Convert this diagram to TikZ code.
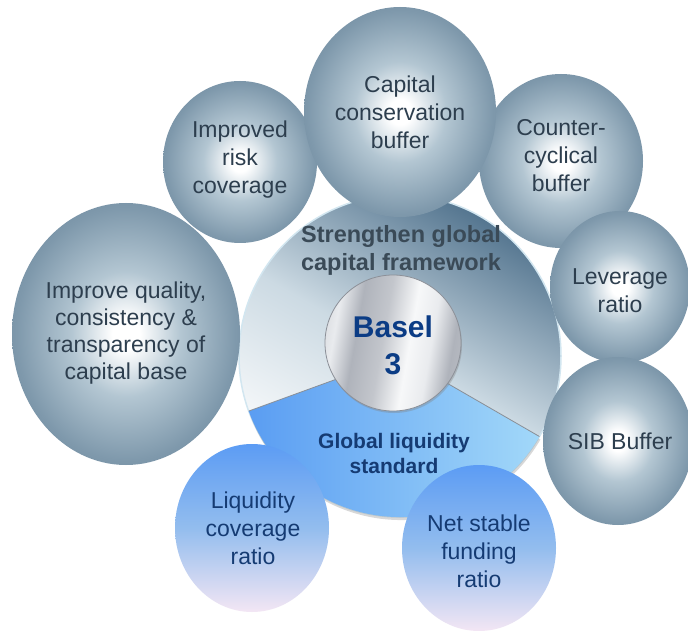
\documentclass[tikz,border=0pt]{standalone}
\usepackage{fontspec}
\setmainfont{Liberation Sans}
\usetikzlibrary{shapes.geometric,shadows}

\definecolor{steeldark}{HTML}{44607A}
\definecolor{steeldeep}{HTML}{577389}
\definecolor{steelmid}{HTML}{7F99AC}
\definecolor{steellight}{HTML}{B3C6D2}
\definecolor{diskdark}{HTML}{557690}
\definecolor{diskmid}{HTML}{CCDAE3}
\definecolor{disklight}{HTML}{FFFFFF}
\definecolor{diskrim}{HTML}{D2E6F0}
\definecolor{secleft}{HTML}{5A9DF2}
\definecolor{secright}{HTML}{A2D8F9}
\definecolor{secedge}{HTML}{8A8F96}
\definecolor{liqtop}{HTML}{5C9CF4}
\definecolor{liqmid}{HTML}{93BDEE}
\definecolor{liqbot}{HTML}{F3E6F4}
\definecolor{silA}{HTML}{9A9EA7}
\definecolor{silB}{HTML}{C3C6CC}
\definecolor{silC}{HTML}{E9EBEE}
\definecolor{silD}{HTML}{AFB3BB}
\definecolor{silE}{HTML}{F7F8F9}
\definecolor{siledge}{HTML}{8C9098}
\definecolor{bubtext}{HTML}{2D3E4E}
\definecolor{frametext}{HTML}{3A4A57}
\definecolor{baseltext}{HTML}{0B3C85}
\definecolor{liqtext}{HTML}{153B73}

\pgfdeclareradialshading{steelball}{\pgfpoint{0bp}{0bp}}{color(0bp)=(white); color(3bp)=(white); color(12bp)=(steellight); color(24bp)=(steelmid); color(38bp)=(steeldeep); color(50bp)=(steeldark)}
\pgfdeclarehorizontalshading{brushed}{100bp}{color(0bp)=(silA); color(16bp)=(silB); color(28bp)=(silC); color(36bp)=(silD); color(46bp)=(silB); color(56bp)=(silE); color(64bp)=(silC); color(72bp)=(silD); color(84bp)=(silB); color(100bp)=(silA)}

\begin{document}
\begin{tikzpicture}[x=1pt, y=1pt,
  bubble/.style={ellipse, shade, shading=steelball, inner sep=0pt},
  liq bubble/.style={ellipse, top color=liqtop, bottom color=liqbot, middle color=liqmid, inner sep=0pt},
  disk/.style={circle, minimum size=322pt, inner sep=0pt, top color=diskdark, bottom color=disklight, middle color=diskmid, shading angle=-30, draw=diskrim, line width=1.5pt},
  silver/.style={circle, minimum size=136pt, inner sep=0pt, shade, shading=brushed, shading angle=-10, draw=siledge, line width=.8pt, drop shadow={opacity=.35, shadow xshift=1pt, shadow yshift=-2pt}},
  bub text/.style={align=center, text=bubtext, font=\fontsize{23}{28}\selectfont},
  liq text/.style={align=center, text=liqtext, font=\fontsize{23}{28}\selectfont}]
\fill[white] (0,0) rectangle (688,630);
\useasboundingbox (0,0) rectangle (688,630);
\begin{scope}
\node[disk] (disk) at (400,274) {};
\shade[left color=secleft, right color=secright, drop shadow={opacity=.3, shadow xshift=1pt, shadow yshift=-3pt}] (disk.center) -- ++(200:161) arc[start angle=200, end angle=330, radius=161] -- cycle;
\draw[secedge, line width=.8pt] (disk.center) -- ++(200:161);
\draw[secedge, line width=.8pt] (disk.center) -- ++(330:161);
\node[silver] (basel) at (393,287) {};
\end{scope}
\begin{scope}
\node[bubble, minimum width=228pt, minimum height=262pt] (impq) at (126,296) {};
\node[bubble, minimum width=154pt, minimum height=162pt] (risk) at (240,468) {};
\node[bubble, minimum width=164pt, minimum height=174pt] (ccyb) at (561,469) {};
\node[bubble, minimum width=192pt, minimum height=210pt] (capb) at (400,518) {};
\node[bubble, minimum width=140pt, minimum height=152pt] (lev) at (620,343) {};
\node[bubble, minimum width=150pt, minimum height=168pt] (sib) at (618,189) {};
\node[liq bubble, minimum width=154pt, minimum height=168pt] (lcr) at (252,102) {};
\node[liq bubble, minimum width=154pt, minimum height=166pt] (nsfr) at (479,82) {};
%\node[bubble, minimum width=pt, minimum height=pt] () at (,) {};
\end{scope}
\begin{scope}
\node[align=center, text=frametext, font=\bfseries\fontsize{23.5}{28}\selectfont] (sgcf) at (401,380) {Strengthen global\\capital framework};
\node[align=center, text=baseltext, font=\bfseries\fontsize{30}{37}\selectfont] (b3) at (393,285) {Basel\\3};
\node[align=center, text=liqtext, font=\bfseries\fontsize{21}{25}\selectfont] (glst) at (394,177) {Global liquidity\\standard};
\node[bub text, font=\fontsize{23}{27}\selectfont] (impq-t) at ([yshift=1pt]impq.center) {Improve quality,\\consistency \&\\transparency of\\capital base};
\node[bub text] (risk-t) at ([yshift=2pt]risk.center) {Improved\\risk\\coverage};
\node[bub text] (capb-t) at (capb.center) {Capital\\conservation\\buffer};
\node[bub text] (ccyb-t) at ([yshift=5pt]ccyb.center) {Counter-\\cyclical\\buffer};
\node[bub text] (lev-t) at ([yshift=-4pt]lev.center) {Leverage\\ratio};
\node[bub text] (sib-t) at ([xshift=2pt]sib.center) {SIB Buffer};
\node[liq text] (lcr-t) at ([xshift=1pt]lcr.center) {Liquidity\\coverage\\ratio};
\node[liq text] (nsfr-t) at ([yshift=-3pt]nsfr.center) {Net stable\\funding\\ratio};
\end{scope}
\end{tikzpicture}
\end{document}
